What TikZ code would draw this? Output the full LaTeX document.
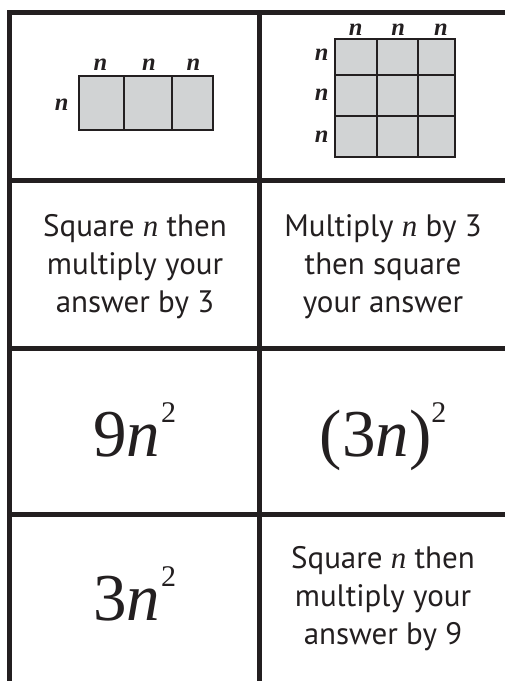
\documentclass[tikz,border=0pt]{standalone}
\usepackage{fontspec}
\setmainfont{PT Sans}
\newfontfamily\serifnum{Liberation Serif}[
  UprightFont=Liberation Serif,
  ItalicFont=Liberation Serif Italic,
  BoldFont=Liberation Serif Bold,
  BoldItalicFont=Liberation Serif Bold Italic]
\definecolor{ink}{HTML}{231F20}
\definecolor{cellgray}{HTML}{D1D3D4}
\newcommand{\vn}{{\serifnum\itshape n}}
\tikzset{
  grid/.style={draw=ink, line width=5pt},
  thin/.style={draw=ink, line width=2pt},
  cellfill/.style={fill=cellgray, draw=ink, line width=2pt},
  lab/.style={inner sep=0pt, anchor=base, text=ink, font=\serifnum\bfseries\itshape\fontsize{24.5}{24.5}\selectfont},
  words/.style={inner sep=0pt, anchor=base, align=center, text=ink, font=\fontsize{31}{38}\selectfont},
  big/.style={inner sep=0pt, anchor=base, text=ink, font=\serifnum\fontsize{67}{67}\selectfont},
}
\newcommand{\sq}{\raisebox{34pt}{\fontsize{30}{30}\selectfont 2}}
\begin{document}
\begin{tikzpicture}[x=1pt,y=-1pt]
\useasboundingbox (0,0) rectangle (505,681);
\fill[white] (0,0) rectangle (505,681);
\clip (0,0) rectangle (505,681);
% table grid
\draw[grid] (9.5,12.5) rectangle (509.5,685);
\draw[grid] (259.5,12.5) -- (259.5,685);
\draw[grid] (9.5,180.5) -- (509.5,180.5);
\draw[grid] (9.5,348) -- (509.5,348);
\draw[grid] (9.5,514) -- (509.5,514);
% left picture: three rectangles
\draw[cellfill] (79.3,76) rectangle (213.3,130);
\draw[thin] (124,76) -- (124,130);
\draw[thin] (172.3,76) -- (172.3,130);
\node[lab] (la) at (100.5,70.7) {n};
\node[lab] (lb) at (149,70.7) {n};
\node[lab] (lc) at (193.5,70.7) {n};
\node[lab] (ld) at (61.8,110) {n};
% right picture: 3x3 grid
\draw[cellfill] (335,38.7) rectangle (455,157.3);
\draw[thin] (376.7,38.7) -- (376.7,157.3);
\draw[thin] (418.3,38.7) -- (418.3,157.3);
\draw[thin] (335,75.3) -- (455,75.3);
\draw[thin] (335,116) -- (455,116);
\node[lab] (ra) at (355.6,35) {n};
\node[lab] (rb) at (398.1,35) {n};
\node[lab] (rc) at (441,35) {n};
\node[lab] (rd) at (321.8,60.7) {n};
\node[lab] (re) at (321.8,100.7) {n};
\node[lab] (rf) at (321.8,142.7) {n};
% row 2
\node[words] (t1) at (135,312) {Square \vn{} then\\multiply your\\answer by 3};
\node[words] (t2) at (383,312) {Multiply \vn{} by 3\\then square\\your answer};
% row 3
\node[big] (e1) at (134.5,456) {9{\itshape n}\kern1pt\sq};
\node[big] (e2) at (383,456) {(3{\itshape n})\sq};
% row 4
\node[big] (e3) at (134.5,620) {3{\itshape n}\kern1pt\sq};
\node[words] (t3) at (383,644.5) {Square \vn{} then\\multiply your\\answer by 9};
\end{tikzpicture}
\end{document}
